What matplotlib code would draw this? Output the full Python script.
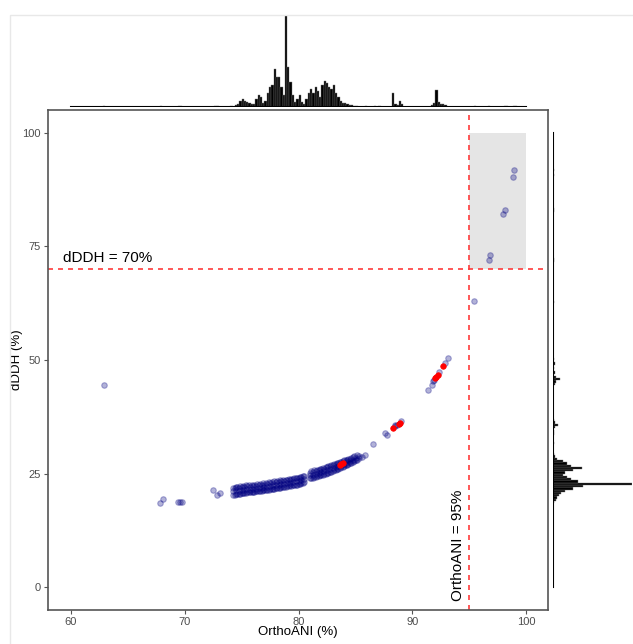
import matplotlib.pyplot as plt
from matplotlib.patches import Rectangle
import numpy as np

plt.rcParams['font.family'] = ['Liberation Sans', 'DejaVu Sans']

# scatter: main band, OrthoANI (%) vs dDDH (%)
band_x = [74.25]*3 + [74.5]*3 + [74.75]*3 + [75.0]*3 + [75.25]*3 + [75.5]*3 + [75.75]*3 + \
         [76.0]*3 + [76.25]*3 + [76.5]*3 + [76.75]*3 + [77.0]*3 + [77.25]*3 + [77.5]*3 + \
         [77.75]*3 + [78.0]*3 + [78.25]*3 + [78.5]*3 + [78.75]*3 + [79.0]*3 + [79.25]*3 + \
         [79.5]*3 + [79.75]*3 + [80.0]*3 + [80.25]*3 + [80.5]*3 + [81.0]*3 + [81.25]*3 + \
         [81.5]*3 + [81.75]*3 + [82.0]*3 + [82.25]*3 + [82.5]*3 + [82.75]*3 + [83.0]*3 + \
         [83.25]*3 + [83.5]*3 + [83.75]*3 + [84.0]*3 + [84.25]*3 + [84.5]*3 + [84.75]*3 + \
         [85.0]*2 + [85.3]*2 + [85.6]
band_y = [20.4, 21.2, 21.8, 20.6, 21.4, 22.0, 20.5, 21.1, 21.9, 20.8, 21.5, 22.1,
          20.7, 21.3, 22.0, 20.9, 21.6, 22.2, 21.0, 21.4, 22.1, 21.0, 21.7, 22.3,
          21.1, 21.6, 22.2, 21.2, 21.8, 22.5, 21.2, 21.9, 22.4, 21.3, 22.0, 22.6,
          21.5, 22.1, 22.7, 21.6, 22.2, 22.9, 21.7, 22.3, 22.8, 21.8, 22.4, 23.1,
          21.9, 22.6, 23.2, 22.0, 22.7, 23.3, 22.1, 22.8, 23.4, 22.2, 22.9, 23.6,
          22.4, 23.0, 23.7, 22.5, 23.2, 23.8, 22.6, 23.3, 24.0, 22.7, 23.4, 24.1,
          22.9, 23.6, 24.3, 23.2, 23.8, 24.5, 24.0, 24.6, 25.2, 24.1, 24.8, 25.4,
          24.3, 25.0, 25.6, 24.5, 25.1, 25.8, 24.7, 25.3, 26.0, 24.9, 25.5, 26.1,
          25.1, 25.8, 26.4, 25.3, 26.0, 26.6, 25.6, 26.2, 26.9, 25.8, 26.5, 27.1,
          26.1, 26.7, 27.3, 26.4, 27.0, 27.6, 26.7, 27.2, 27.9, 27.0, 27.5, 28.1,
          27.3, 27.8, 28.3, 27.6, 28.1, 28.6, 28.0, 28.4, 28.4, 28.8, 28.7]

# second pass of band points between the first ones (outer edges of the band)
band2_x = [74.375]*2 + [74.625]*2 + [74.875]*2 + [75.125]*2 + [75.375]*2 + [75.625]*2 + \
          [75.875]*2 + [76.125]*2 + [76.375]*2 + [76.625]*2 + [76.875]*2 + [77.125]*2 + \
          [77.375]*2 + [77.625]*2 + [77.875]*2 + [78.125]*2 + [78.375]*2 + [78.625]*2 + \
          [78.875]*2 + [79.125]*2 + [79.375]*2 + [79.625]*2 + [79.875]*2 + [80.125]*2 + \
          [80.375]*2 + [81.125]*2 + [81.375]*2 + [81.625]*2 + [81.875]*2 + [82.125]*2 + \
          [82.375]*2 + [82.625]*2 + [82.875]*2 + [83.125]*2 + [83.375]*2 + [83.625]*2 + \
          [83.875]*2 + [84.125]*2 + [84.375]*2 + [84.625]*2 + [84.875]*2 + [85.125]*2
band2_y = [20.3, 21.9, 20.5, 22.1, 20.6, 22.2, 20.7, 22.3, 20.8, 22.4, 20.9, 22.5,
           21.0, 22.6, 21.0, 22.6, 21.1, 22.7, 21.2, 22.8, 21.3, 22.9, 21.4, 23.0,
           21.5, 23.1, 21.6, 23.2, 21.7, 23.3, 21.8, 23.4, 21.9, 23.5, 22.0, 23.6,
           22.1, 23.7, 22.2, 23.8, 22.3, 23.9, 22.4, 24.0, 22.5, 24.1, 22.7, 24.3,
           22.9, 24.5, 24.0, 25.5, 24.2, 25.7, 24.4, 25.9, 24.6, 26.0, 24.8, 26.2,
           25.0, 26.4, 25.2, 26.7, 25.4, 26.9, 25.7, 27.1, 26.0, 27.3, 26.3, 27.6,
           26.5, 27.8, 26.8, 28.0, 27.1, 28.3, 27.4, 28.5, 27.7, 28.8, 28.1, 29.0]

# scattered blue points outside the band
extra_x = [62.9, 67.8, 68.1, 69.4, 69.6, 69.8, 72.5, 72.8, 73.1, 85.8, 86.5, 87.6, 87.8,
           88.45, 88.5, 88.6, 89.0, 91.4, 91.7, 91.8, 91.9, 92.3, 92.9, 93.1,
           95.4, 96.7, 96.8, 97.95, 98.1, 98.85, 98.9]
extra_y = [44.6, 18.5, 19.4, 18.8, 18.8, 18.8, 21.4, 20.3, 20.7, 29.0, 31.6, 33.9, 33.4,
           35.6, 35.5, 35.7, 36.6, 43.5, 44.6, 45.3, 45.6, 47.3, 49.3, 50.4,
           63.0, 72.0, 73.0, 82.2, 83.0, 90.2, 91.7]

# highlighted (red) points
red_x = [83.6, 83.75, 83.9, 88.3, 88.8, 88.9, 92.0, 92.1, 92.2, 92.7]
red_y = [26.9, 27.1, 27.4, 35.0, 36.0, 36.1, 46.0, 46.2, 46.6, 48.6]

# top marginal histogram (OrthoANI), bin left edges, width 0.2
ani_bins = [62.8, 67.8, 69.4, 69.6, 72.6, 72.8, 74.0, 74.4, 74.6, 74.8, 75.0, 75.2, 75.4,
            75.6, 75.8, 76.0, 76.2, 76.4, 76.6, 76.8, 77.0, 77.2, 77.4, 77.6, 77.8, 78.0,
            78.2, 78.4, 78.6, 78.8, 79.0, 79.2, 79.4, 79.6, 79.8, 80.0, 80.2, 80.4, 80.6,
            80.8, 81.0, 81.2, 81.4, 81.6, 81.8, 82.0, 82.2, 82.4, 82.6, 82.8, 83.0, 83.2,
            83.4, 83.6, 83.8, 84.0, 84.2, 84.4, 84.6, 84.8, 85.0, 85.8, 86.6, 87.0, 88.2,
            88.4, 88.6, 88.8, 89.0, 91.6, 91.8, 92.0, 92.2, 92.4, 92.6, 92.8, 95.4, 96.6,
            98.0, 98.2, 98.8, 99.0]
ani_counts = [1, 1, 1, 1, 1, 1, 1, 2, 3, 6, 8, 6, 5,
              4, 3, 3, 8, 12, 10, 4, 6, 14, 20, 22, 38, 30,
              30, 20, 12, 92, 40, 25, 12, 5, 8, 12, 5, 3, 8,
              14, 18, 14, 20, 16, 10, 22, 26, 24, 20, 18, 22, 14,
              10, 6, 4, 4, 3, 2, 2, 1, 1, 1, 1, 1, 14,
              3, 2, 6, 3, 2, 4, 17, 5, 3, 3, 2, 1, 1,
              1, 1, 1, 1]

# right marginal histogram (dDDH), bin bottom edges, width 0.5
ddh_bins = [18.5, 19.0, 19.5, 20.0, 20.5, 21.0, 21.5, 22.0, 22.5, 23.0, 23.5, 24.0, 24.5,
            25.0, 25.5, 26.0, 26.5, 27.0, 27.5, 28.0, 28.5, 29.0, 31.5, 33.5, 34.0, 35.0,
            35.5, 36.0, 36.5, 44.5, 45.0, 45.5, 46.0, 47.0, 48.0, 49.0, 50.0, 62.5, 71.5,
            72.0, 82.5, 83.0, 90.5, 91.5]
ddh_counts = [1, 3, 4, 6, 8, 12, 20, 30, 79, 25, 18, 14, 10,
              12, 20, 29, 18, 14, 10, 4, 2, 1, 1, 1, 1, 2,
              5, 2, 1, 2, 3, 7, 3, 2, 1, 2, 1, 1, 1,
              1, 1, 1, 1, 1]

navy = '#000080'
line_red = '#ff3b3b'
grey_txt = '#4d4d4d'

fig = plt.figure(figsize=(6.33, 6.44), dpi=100)

# faint outer frame
fig.patches.append(Rectangle((10/633, -0.01), 1.0, (644-15)/644 + 0.01, transform=fig.transFigure,
                             fill=False, edgecolor='#e8e8e8', linewidth=1))

ax = fig.add_axes([48/633, (644-610)/644, 500/633, 500/644])
ax.set_xlim(58.0, 101.9)
ax.set_ylim(-5, 105)

ax.add_patch(Rectangle((95, 70), 5, 30, facecolor='#e5e5e5', edgecolor='none', zorder=0))
ax.axhline(70, color=line_red, linestyle=(0, (3, 3)), linewidth=1.2, zorder=1)
ax.axvline(95, color=line_red, linestyle=(0, (3, 3)), linewidth=1.2, zorder=1)

ax.scatter(band_x + band2_x + extra_x, band_y + band2_y + extra_y, s=16, color=navy,
           alpha=0.3, edgecolors=navy, linewidths=0.8, zorder=2)
ax.scatter(red_x, red_y, s=16, color='red', edgecolors='red', linewidths=0.5, zorder=3)

ax.text(59.3, 70.8, 'dDDH = 70%', fontsize=11, ha='left', va='bottom')
ax.text(94.0, -3.0, 'OrthoANI = 95%', fontsize=11, rotation=90, ha='center', va='bottom')

ax.set_xticks([60, 70, 80, 90, 100])
ax.set_yticks([0, 25, 50, 75, 100])
ax.tick_params(colors='#555555', labelcolor=grey_txt, labelsize=8, length=3, pad=2)
for sp in ax.spines.values():
    sp.set_color('#555555')
    sp.set_linewidth(1.2)
ax.set_xlabel('OrthoANI (%)', fontsize=9.5)
ax.set_ylabel('dDDH (%)', fontsize=9.5)
ax.xaxis.set_label_coords(0.5, -0.031)
ax.yaxis.set_label_coords(-0.05, 0.5)

# top marginal
axt = fig.add_axes([48/633, (644-107)/644, 500/633, 92/644], sharex=ax)
axt.bar(ani_bins, ani_counts, width=0.2, align='edge', color='black',
        edgecolor='#777777', linewidth=0.3)
axt.plot([60, 100], [0, 0], color='black', linewidth=1.5)
axt.set_ylim(0, max(ani_counts))
axt.axis('off')

# right marginal
axr = fig.add_axes([553/633, (644-610)/644, 79/633, 500/644], sharey=ax)
axr.barh(ddh_bins, ddh_counts, height=0.5, align='edge', color='black',
         edgecolor='#777777', linewidth=0.3)
axr.plot([0, 0], [0, 100], color='black', linewidth=1.5)
axr.set_xlim(0, max(ddh_counts))
axr.axis('off')

fig.savefig('out.png', dpi=100)
